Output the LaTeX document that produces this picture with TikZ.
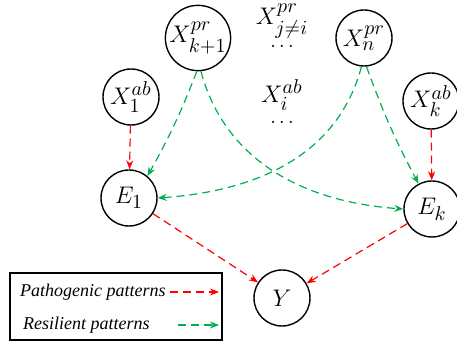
\documentclass[tikz,border=0pt]{standalone}
\usepackage{fix-cm}
\usepackage{amsmath}
\usepackage{xcolor}
\usepackage{fontspec}
\newfontfamily\legfont{Liberation Serif}
\DeclareMathSizes{12}{12}{10}{8}
\usetikzlibrary{arrows.meta}
\definecolor{resgreen}{RGB}{0,176,80}
\definecolor{pathred}{RGB}{255,0,0}

\begin{document}
\begin{tikzpicture}[x=0.5pt,y=-0.5pt,
    var/.style={draw,circle,line width=0.7pt,minimum size=28pt,inner sep=0pt,font=\large},
    free/.style={inner sep=0pt,font=\large},
    patho/.style={pathred,line width=0.6pt,dash pattern=on 4pt off 2.5pt,-{Stealth[length=4.5pt,width=3.5pt]}},
    resil/.style={resgreen,line width=0.6pt,dash pattern=on 4pt off 2.5pt,-{Stealth[length=4.5pt,width=3.5pt]}},
    legtext/.style={font=\legfont\itshape\fontsize{9}{11}\selectfont,anchor=west}]
    \useasboundingbox (0,0) rectangle (457,342);
    \def\ya{38}
    \def\yb{97}
    \def\yc{198}

    % exposures
    \node[var] (kpr) at (198,\ya) {$X_{k+1}^{pr}$};
    \node[var] (npr) at (364,\ya) {$X_{n}^{pr}$};
    \node[var] (ab1) at (131,\yb) {$X_{1}^{ab}$};
    \node[var] (abk) at (431,101) {$X_{k}^{ab}$};

    % unlabelled ones
    \node[free] (jpr) at (282,21) {$X_{j\neq i}^{pr}$};
    \node[inner sep=0pt] (jdots) at (282,46) {$\ldots$};
    \node[free] (iab) at (282,95) {$X_{i}^{ab}$};
    \node[inner sep=0pt] (idots) at (282,122) {$\ldots$};

    % mediators and outcome
    \node[var] (e1) at (129,\yc) {$E_1$};
    \node[var] (ek) at (432,209) {$E_k$};
    \node[var] (y) at (282,298) {$Y$};

    % pathogenic
    \draw[patho] (ab1) -- (e1);
    \draw[patho] (abk) -- (ek);
    \draw[patho] (e1) -- (y);
    \draw[patho] (ek) -- (y);

    % resilient
    \draw[resil] (kpr.-92) to[bend left=4] (e1.50);
    \draw[resil] (kpr.-85) to[out=-75,in=176] (ek.180);
    \draw[resil] (npr.-95) to[out=-105,in=4] (e1.0);
    \draw[resil] (npr.-85) to[bend right=4] (ek.118);

    % legend
    \draw[line width=0.7pt] (10,273) rectangle (222,340);
    \node[legtext] (lp) at (13,292) {Pathogenic patterns};
    \node[legtext] (lr) at (16,325) {Resilient patterns};
    \coordinate (lpa) at (170,292);
    \coordinate (lpb) at (219,292);
    \coordinate (lra) at (178,325);
    \coordinate (lrb) at (219,325);
    \draw[patho] (lpa) -- (lpb);
    \draw[resil] (lra) -- (lrb);
\end{tikzpicture}
\end{document}
